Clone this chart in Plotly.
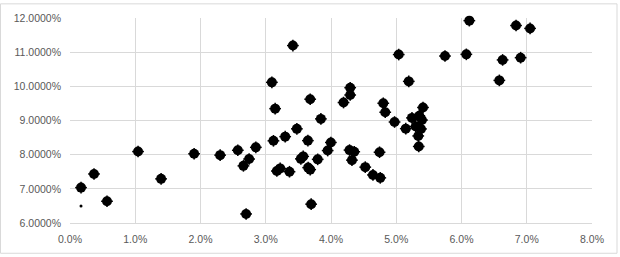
import plotly.graph_objects as go

# data in percent
x_vals = [0.169, 0.368, 0.567, 1.043, 1.396, 1.902, 2.301, 2.572, 2.658, 2.745, 2.699, 2.848,
          3.118, 3.298, 3.477, 3.646, 3.574, 3.538, 3.221, 3.170, 3.364, 3.650, 3.681, 3.144,
          3.094, 3.416, 3.681, 3.845, 3.696, 4.192, 4.294, 4.294, 3.998, 3.949, 3.796, 4.284,
          4.356, 4.321, 4.744, 4.525, 4.643, 4.755, 4.801, 4.831, 4.974, 5.038, 5.192, 5.410,
          5.241, 5.353, 5.394, 5.146, 5.299, 5.379, 5.337, 5.345, 5.747, 6.074, 6.120, 6.580,
          6.630, 6.836, 6.906, 7.051]
y_vals = [7.036, 7.435, 6.636, 8.091, 7.292, 8.026, 7.986, 8.128, 7.672, 7.872, 6.265, 8.214,
          8.405, 8.528, 8.756, 8.411, 7.949, 7.877, 7.598, 7.521, 7.501, 7.621, 7.563, 9.347,
          10.117, 11.193, 9.623, 9.047, 6.551, 9.526, 9.960, 9.746, 8.357, 8.120, 7.863, 8.134,
          8.086, 7.840, 8.071, 7.635, 7.407, 7.321, 9.504, 9.241, 8.956, 10.930, 10.145, 9.381,
          9.076, 9.141, 9.013, 8.762, 8.825, 8.753, 8.548, 8.240, 10.887, 10.936, 11.923, 10.174,
          10.773, 11.780, 10.839, 11.695]
small_x = [0.169]
small_y = [6.494]

x_ticks = [0, 1, 2, 3, 4, 5, 6, 7, 8]
y_ticks = [6, 7, 8, 9, 10, 11, 12]

fig = go.Figure()
fig.add_trace(go.Scatter(
    x=[v / 100 for v in x_vals], y=[v / 100 for v in y_vals], mode="markers",
    marker=dict(color="black", size=10),
    error_x=dict(type="constant", value=0.0009, color="black", thickness=1.5, width=0),
    error_y=dict(type="constant", value=0.0017, color="black", thickness=1.5, width=0),
    cliponaxis=False, showlegend=False, hoverinfo="skip"))
fig.add_trace(go.Scatter(
    x=[v / 100 for v in small_x], y=[v / 100 for v in small_y], mode="markers",
    marker=dict(color="black", size=3), showlegend=False, hoverinfo="skip"))

font = dict(family="Liberation Sans", size=10.5, color="#595959")
fig.update_layout(
    width=620, height=257,
    margin=dict(l=70, r=28, t=15, b=32),
    paper_bgcolor="white", plot_bgcolor="white",
    font=font,
    xaxis=dict(range=[0, 0.08], tickvals=[v / 100 for v in x_ticks], tickformat=".1%",
               showgrid=True, gridcolor="#d9d9d9", gridwidth=1, zeroline=False,
               showline=True, linecolor="#d9d9d9", linewidth=1, ticks="",
               ticklabelstandoff=6, tickfont=font),
    yaxis=dict(range=[0.06, 0.12], tickvals=[v / 100 for v in y_ticks], tickformat=".4%",
               showgrid=True, gridcolor="#d9d9d9", gridwidth=1, zeroline=False,
               showline=False, ticks="", ticklabelstandoff=8, tickfont=font),
    shapes=[dict(type="rect", xref="paper", yref="paper",
                 x0=-0.1331, x1=1.0479, y0=-0.1476, y1=1.069,
                 line=dict(color="#d9d9d9", width=1), fillcolor="rgba(0,0,0,0)", layer="below")],
)
fig.write_html("out.html")
